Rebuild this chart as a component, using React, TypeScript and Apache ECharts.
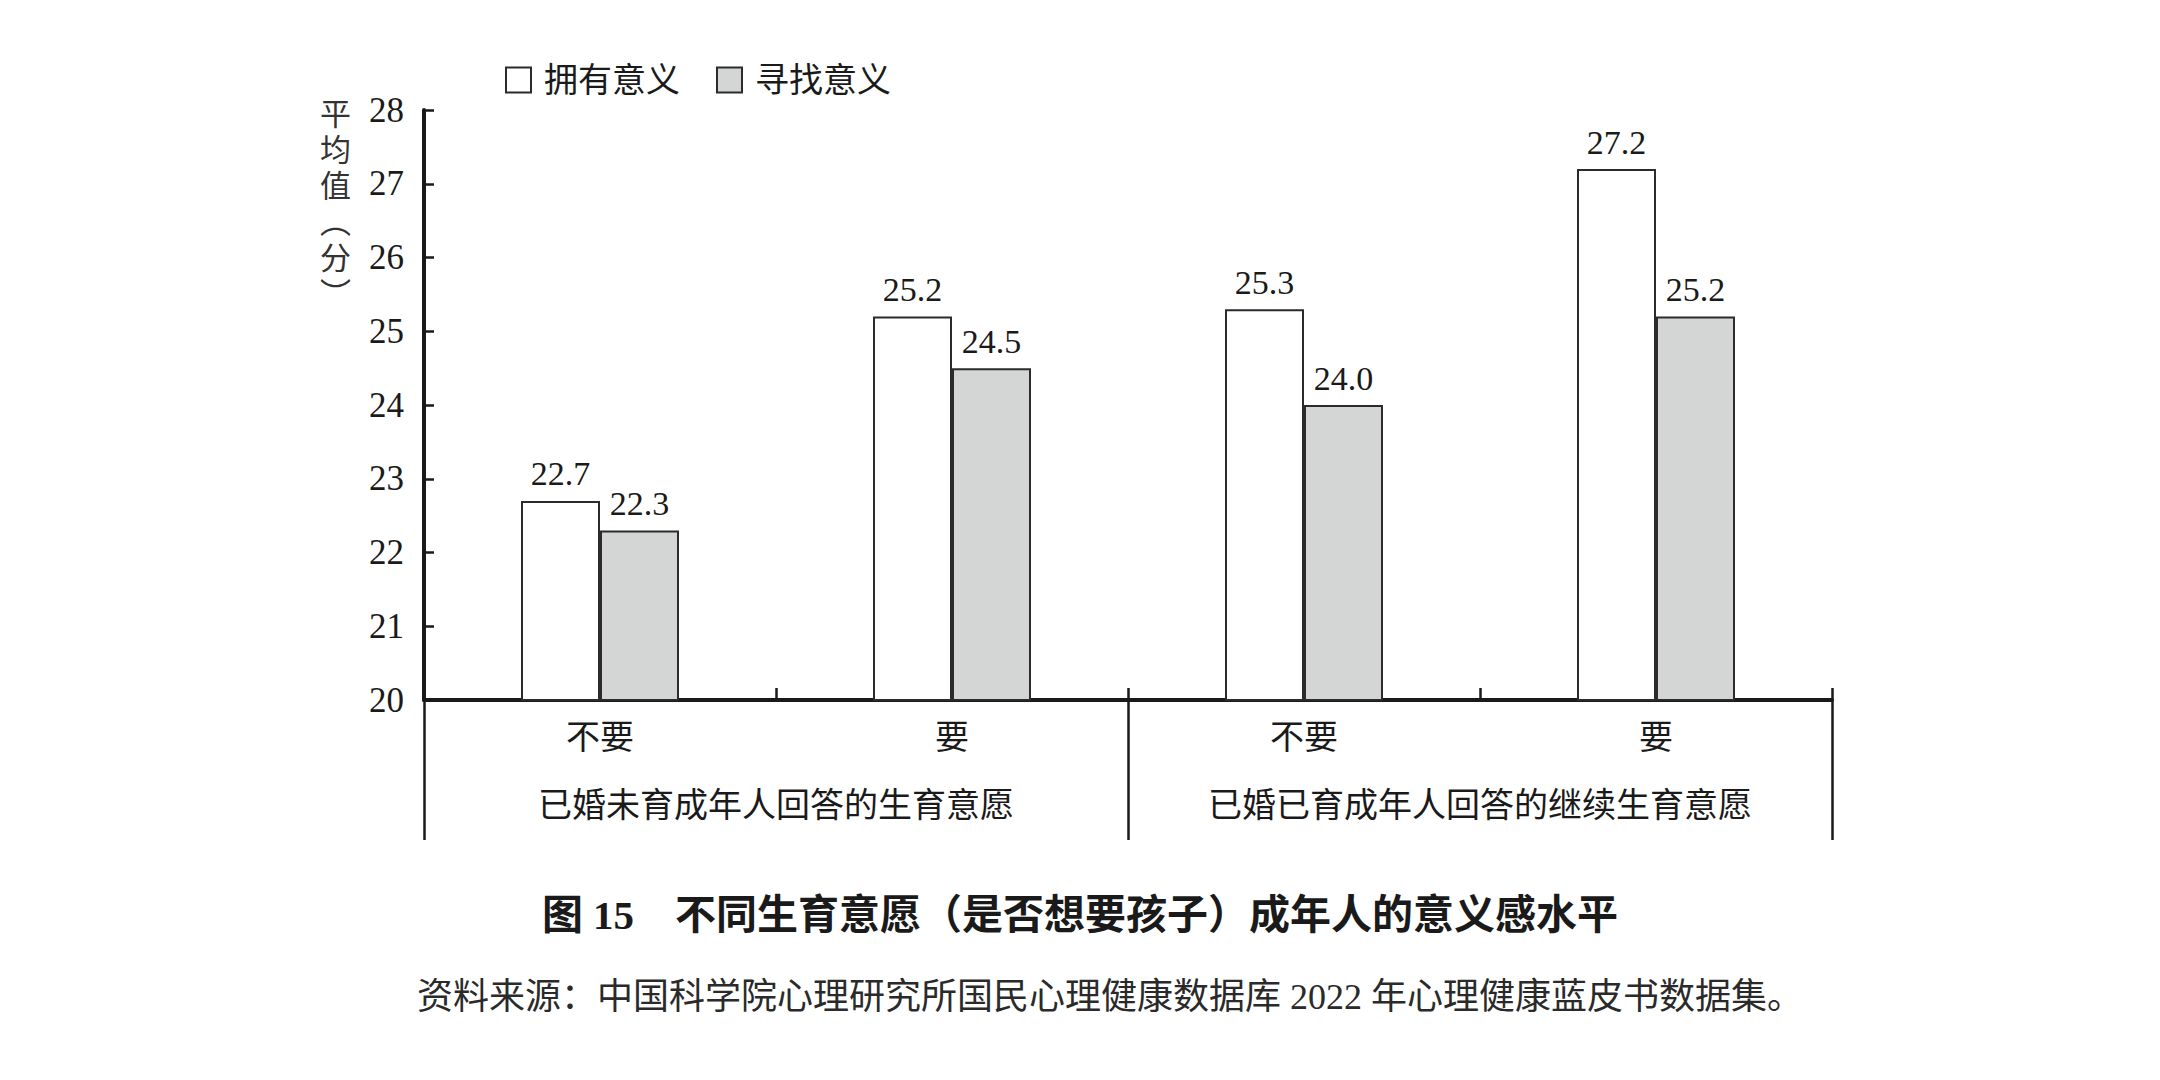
import React, { useEffect, useRef } from 'react';
import * as echarts from 'echarts';

// 数据
const categories = ['不要', '要', '不要', '要'];
const groups = ['已婚未育成年人回答的生育意愿', '已婚已育成年人回答的继续生育意愿'];
const seriesNames = ['拥有意义', '寻找意义'];
const havingMeaning = [22.7, 25.2, 25.3, 27.2];
const seekingMeaning = [22.3, 24.5, 24.0, 25.2];
const yMin = 20;
const yMax = 28;
const yInterval = 1;
const yName = '平\n均\n值\n︵\n分\n︶';
const chartTitle = '图 15　不同生育意愿（是否想要孩子）成年人的意义感水平';
const sourceNote = '资料来源：中国科学院心理研究所国民心理健康数据库 2022 年心理健康蓝皮书数据集。';

const FONT = '"Liberation Serif", "Noto Sans CJK SC", serif';
const INK = '#1a1a1a';

const App: React.FC = () => {
  const chartRef = useRef<HTMLDivElement>(null);

  useEffect(() => {
    if (!chartRef.current) return;
    const chart = echarts.init(chartRef.current, undefined, { renderer: 'svg' });

    const barLabel = {
      show: true,
      position: 'top' as const,
      distance: 10,
      fontFamily: FONT,
      fontSize: 34,
      color: INK,
      formatter: (p: any) => Number(p.value).toFixed(1)
    };

    const option: echarts.EChartsOption = {
      animation: false,
      backgroundColor: '#ffffff',
      title: [
        {
          text: chartTitle,
          left: 'center',
          top: 889,
          textStyle: { fontFamily: FONT, fontSize: 41, fontWeight: 'bold', color: INK }
        },
        {
          text: sourceNote,
          left: 412,
          top: 974,
          textStyle: { fontFamily: FONT, fontSize: 36, fontWeight: 'normal', color: '#2a2a2a' }
        }
      ],
      legend: {
        data: seriesNames,
        left: 500,
        top: 58,
        icon: 'rect',
        itemWidth: 25,
        itemHeight: 25,
        itemGap: 36,
        textStyle: { fontFamily: FONT, fontSize: 34, color: INK, padding: [0, 0, 0, 8] }
      },
      grid: {
        left: 424,
        right: 328,
        top: 110,
        bottom: 380,
        containLabel: false
      },
      xAxis: [
        {
          type: 'category',
          data: categories,
          position: 'bottom',
          axisLine: { show: true, lineStyle: { color: INK, width: 4 } },
          axisTick: { show: true, inside: true, length: 12, lineStyle: { color: INK, width: 2.5 } },
          axisLabel: { interval: 0, margin: 20, fontFamily: FONT, fontSize: 34, color: INK }
        },
        {
          type: 'category',
          data: groups,
          position: 'bottom',
          offset: 0,
          axisLine: { show: false },
          axisTick: { show: true, inside: false, length: 140, lineStyle: { color: INK, width: 2.5 } },
          axisLabel: { interval: 0, margin: 88, fontFamily: FONT, fontSize: 34, color: INK }
        }
      ],
      yAxis: {
        type: 'value',
        min: yMin,
        max: yMax,
        interval: yInterval,
        axisLine: { show: true, lineStyle: { color: INK, width: 4 } },
        axisTick: { show: true, inside: true, length: 10, lineStyle: { color: INK, width: 2.5 } },
        axisLabel: { margin: 20, fontFamily: FONT, fontSize: 35, color: INK },
        splitLine: { show: false }
      },
      series: [
        {
          name: seriesNames[0],
          type: 'bar',
          xAxisIndex: 0,
          data: havingMeaning,
          barWidth: 79,
          barGap: '0%',
          itemStyle: { color: '#ffffff', borderColor: '#2b2b2b', borderWidth: 2 },
          label: barLabel
        },
        {
          name: seriesNames[1],
          type: 'bar',
          xAxisIndex: 0,
          data: seekingMeaning,
          barWidth: 79,
          barGap: '0%',
          itemStyle: { color: '#d4d6d6', borderColor: '#2b2b2b', borderWidth: 2 },
          label: barLabel
        }
      ],
      graphic: [
        {
          type: 'text',
          left: 320,
          top: 96,
          style: {
            text: yName,
            fontFamily: FONT,
            fontSize: 31,
            lineHeight: 36,
            fill: '#333'
          }
        }
      ]
    };

    chart.setOption(option);

    const handleResize = () => chart.resize();
    window.addEventListener('resize', handleResize);
    return () => {
      window.removeEventListener('resize', handleResize);
      chart.dispose();
    };
  }, []);

  return (
    <div
      ref={chartRef}
      style={{ position: 'fixed', left: 0, top: 0, width: '2160px', height: '1080px' }}
    />
  );
};

export default App;
